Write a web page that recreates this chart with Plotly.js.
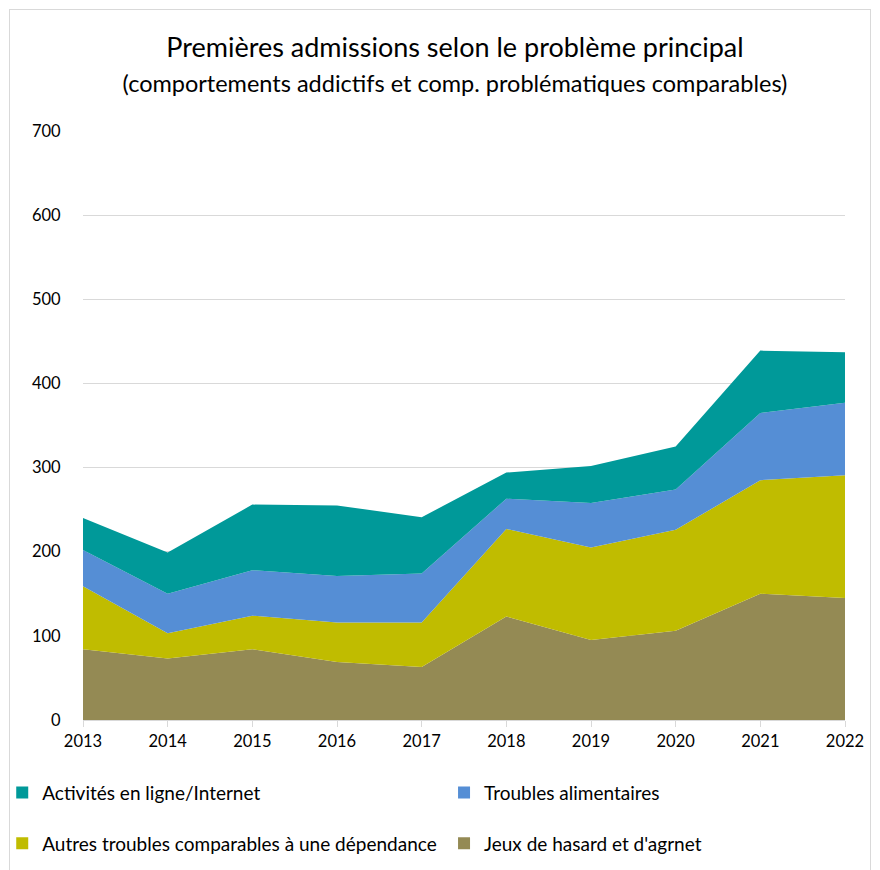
<!DOCTYPE html>
<html>
<head>
<meta charset="utf-8">
<script src="https://cdn.plot.ly/plotly-3.0.1.min.js"></script>
<style>
html,body{margin:0;padding:0;background:#fff;}
#frame{position:absolute;left:9px;top:9px;width:862px;height:870px;border:1px solid #d9d9d9;box-sizing:border-box;}
#chart{position:absolute;left:0;top:0;width:880px;height:870px;}
</style>
</head>
<body>
<div id="frame"></div>
<div id="chart"></div>
<script>
var years = [2013, 2014, 2015, 2016, 2017, 2018, 2019, 2020, 2021, 2022];
var jeux = [84, 73, 84, 69, 63, 123, 95, 106, 150, 145];
var autres = [75, 30, 40, 47, 53, 104, 110, 120, 135, 146];
var troubles = [43, 47, 54, 55, 58, 36, 53, 48, 80, 86];
var internet = [38, 49, 78, 84, 67, 31, 44, 51, 74, 60];

var names = ["Jeux de hasard et d'agrnet", "Autres troubles comparables à une dépendance", "Troubles alimentaires", "Activités en ligne/Internet"];
var colors = ["#948a54", "#c0bc00", "#558ed5", "#009999"];
var series = [jeux, autres, troubles, internet];

var FONT = "Lato, 'Open Sans', sans-serif";
var traces = series.map(function(s, i){
  return {
    x: years, y: s, name: names[i], type: 'scatter', mode: 'lines',
    stackgroup: 'one', line: {width: 0, color: colors[i]}, fillcolor: colors[i],
    showlegend: false, hoverinfo: 'x+y+name'
  };
});
// legend proxies (square markers): left column / right column
var legendSpec = [[3, 'legend'], [1, 'legend'], [2, 'legend2'], [0, 'legend2']];
legendSpec.forEach(function(spec){
  var i = spec[0];
  traces.push({
    x: [null], y: [null], type: 'bar', name: names[i], legend: spec[1], legendgroup: 'g' + i,
    marker: {color: colors[i]}, showlegend: true, hoverinfo: 'skip'
  });
});

var legFont = {family: FONT, size: 19, color: '#000'};
var layout = {
  width: 880, height: 870,
  paper_bgcolor: 'rgba(0,0,0,0)', plot_bgcolor: 'rgba(0,0,0,0)',
  margin: {l: 83, r: 35, t: 131, b: 150, autoexpand: false},
  font: {family: FONT, size: 16, color: '#000'},
  title: {
    text: 'Premières admissions selon le problème principal<br><span style="font-size:23.5px">(comportements addictifs et comp. problématiques comparables)</span>',
    font: {family: FONT, size: 27, color: '#000'},
    x: 0.517, xanchor: 'center', y: 0.935, yanchor: 'top'
  },
  xaxis: {
    range: [2013, 2022], tickvals: years, ticktext: years.map(String),
    showgrid: false, zeroline: false, showline: true, linecolor: '#d9d9d9', linewidth: 1,
    ticks: 'outside', ticklen: 6, tickcolor: '#d9d9d9', tickwidth: 1,
    tickfont: {family: FONT, size: 16.5, color: '#000'}, fixedrange: true
  },
  yaxis: {
    range: [0, 700], dtick: 100, tick0: 0,
    showgrid: true, gridcolor: '#d9d9d9', gridwidth: 1, zeroline: false, showline: false,
    ticks: 'outside', ticklen: 18, tickcolor: 'rgba(0,0,0,0)',
    tickfont: {family: FONT, size: 16.5, color: '#000'}, fixedrange: true
  },
  showlegend: true,
  legend: {
    orientation: 'v', x: -0.106, xanchor: 'left', y: -0.091, yanchor: 'top',
    traceorder: 'grouped', tracegroupgap: 23,
    font: legFont, itemclick: false, itemdoubleclick: false, bgcolor: 'rgba(0,0,0,0)'
  },
  legend2: {
    orientation: 'v', x: 0.4738, xanchor: 'left', y: -0.091, yanchor: 'top',
    traceorder: 'grouped', tracegroupgap: 23,
    font: legFont, itemclick: false, itemdoubleclick: false, bgcolor: 'rgba(0,0,0,0)'
  },
  barmode: 'overlay'
};

Plotly.newPlot('chart', traces, layout, {displayModeBar: false, staticPlot: true});
</script>
</body>
</html>
